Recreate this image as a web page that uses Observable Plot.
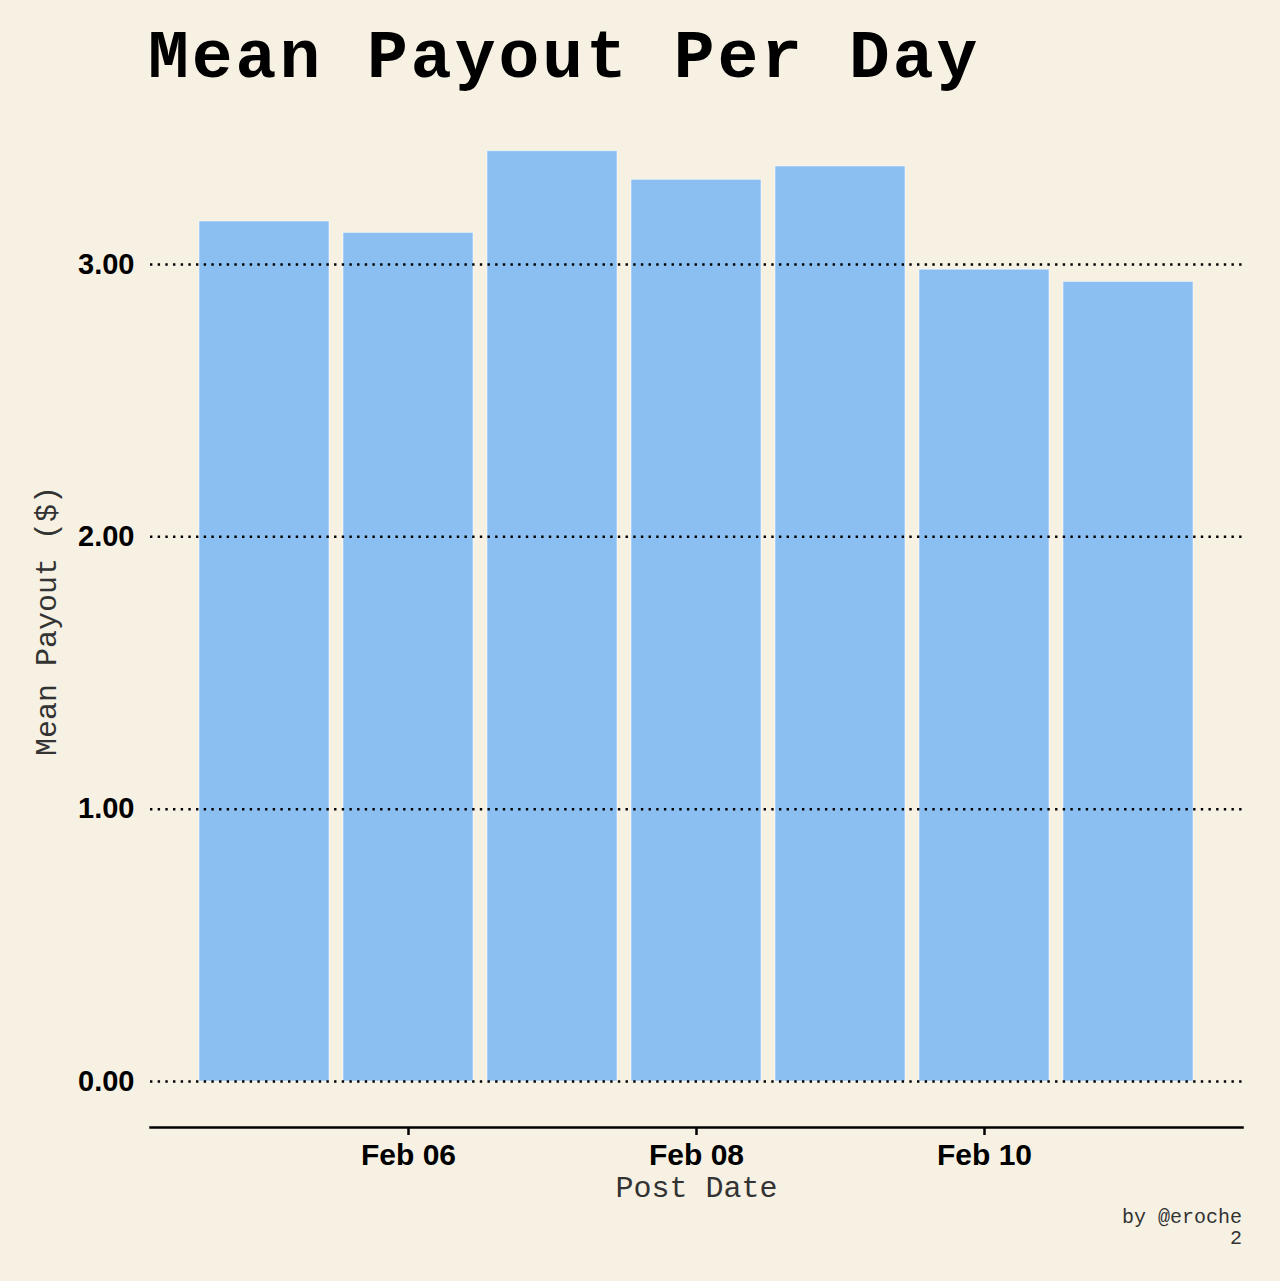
<!DOCTYPE html>
<html>
<head>
<meta charset="utf-8">
<script src="https://cdn.jsdelivr.net/npm/d3@7"></script>
<script src="https://cdn.jsdelivr.net/npm/@observablehq/plot@0.6"></script>
<style>
  html, body { margin: 0; padding: 0; background: #f7f1e4; }
  #page { position: relative; width: 1280px; height: 1281px; background: #f7f1e4; overflow: hidden; }
  #title { position: absolute; left: 148px; top: 19px; font-family: "Liberation Mono", "DejaVu Sans Mono", monospace; font-weight: bold; font-size: 68px; letter-spacing: 3px; line-height: 80px; color: #000; white-space: pre; }
  #chart { position: absolute; left: 0; top: 120px; }
  #caption { position: absolute; right: 38px; top: 1207px; font-family: "Liberation Mono", monospace; font-size: 20px; line-height: 21px; color: #333; text-align: right; white-space: pre; }
</style>
</head>
<body>
<div id="page">
  <div id="title">Mean Payout Per Day</div>
  <div id="chart"></div>
  <div id="caption">by @eroche
2</div>
</div>
<script>
// Data
const dates = ["2018-02-05", "2018-02-06", "2018-02-07", "2018-02-08", "2018-02-09", "2018-02-10", "2018-02-11"];
const meanPayout = [3.158, 3.116, 3.416, 3.311, 3.360, 2.981, 2.936];
const xTickDates = ["2018-02-06", "2018-02-08", "2018-02-10"];
const yTicks = [0, 1, 2, 3];
const xLabel = "Post Date";
const yLabel = "Mean Payout ($)";

const DAY = 24 * 3600 * 1000;
const data = dates.map((d, i) => ({date: new Date(d), value: meanPayout[i]}));

const mono = "'Liberation Mono', 'DejaVu Sans Mono', monospace";
const sans = "'Liberation Sans', Arial, Helvetica, sans-serif";

const chart = Plot.plot({
  width: 1280,
  height: 1080,
  marginLeft: 150,
  marginRight: 38,
  marginTop: 10,
  marginBottom: 73,
  style: {background: "transparent", color: "#000", overflow: "visible"},
  x: {
    type: "utc",
    domain: [new Date(new Date("2018-02-06").getTime() - 1.7917 * DAY), new Date(new Date("2018-02-06").getTime() + 5.7917 * DAY)]
  },
  y: {domain: [-0.1689, 3.4921]},
  marks: [
    Plot.rectY(data, {
      x1: d => new Date(d.date.getTime() - 0.5 * DAY),
      x2: d => new Date(d.date.getTime() + 0.5 * DAY),
      y1: 0,
      y2: "value",
      insetLeft: 7,
      insetRight: 7,
      fill: "#8bbff2",
      stroke: "#ffffff",
      strokeOpacity: 0.5,
      strokeWidth: 1
    }),
    Plot.gridY(yTicks, {
      stroke: "#000",
      strokeOpacity: 1,
      strokeWidth: 2.5,
      strokeDasharray: "2.4 5.27"
    }),
    Plot.frame({anchor: "bottom", stroke: "#000", strokeWidth: 2.5}),
    Plot.axisY(yTicks, {
      tickSize: 0,
      tickPadding: 16,
      tickFormat: d3.format(".2f"),
      fontFamily: sans,
      fontWeight: "bold",
      fontSize: 29,
      label: null
    }),
    Plot.axisX(xTickDates.map(d => new Date(d)), {
      tickSize: 8,
      tickPadding: 8,
      strokeWidth: 2.5,
      tickFormat: d3.utcFormat("%b %d"),
      fontFamily: sans,
      fontWeight: "bold",
      fontSize: 30,
      label: null
    }),
    Plot.text([xLabel], {
      frameAnchor: "bottom",
      dy: 69,
      fontFamily: mono,
      fontSize: 30,
      fill: "#333"
    }),
    Plot.text([yLabel], {
      frameAnchor: "left",
      textAnchor: "middle",
      rotate: -90,
      dx: -104,
      dy: -8,
      fontFamily: mono,
      fontSize: 30,
      fill: "#333"
    })
  ]
});
document.getElementById("chart").appendChild(chart);
</script>
</body>
</html>
